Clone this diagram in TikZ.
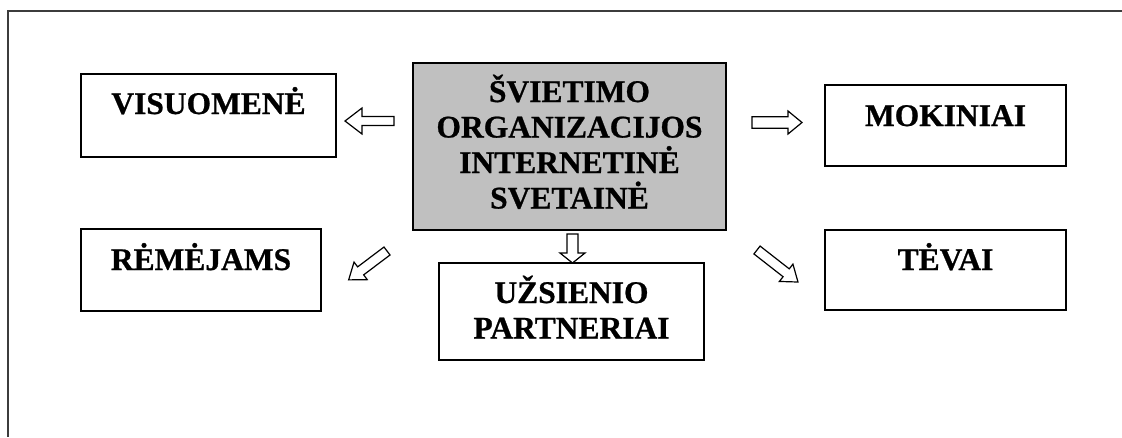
\documentclass[tikz,border=0pt]{standalone}
\usepackage{fontspec}
\setmainfont{Liberation Serif}[BoldFeatures={FakeBold=0.8}]
\begin{document}
\begin{tikzpicture}[x=1pt,y=-1pt,
  box/.style={draw=black, line width=1.4pt, fill=white},
  mainbox/.style={box, fill=silvergray},
  lbl/.style={anchor=base, inner sep=0pt, font=\fontsize{31.5}{35.5}\selectfont\bfseries},
  arr/.style={draw=black, line width=1.2pt, fill=white, line join=miter},
  frame/.style={draw=framegray, line width=2pt}]
\definecolor{silvergray}{HTML}{C0C0C0}
\definecolor{framegray}{HTML}{3C3C3C}
\useasboundingbox (0,0) rectangle (1122,437);
\newcommand\blockarr[7]{%
  \begin{scope}[shift={(#1,#2)}, rotate=#3]
    \draw[arr] (0,-#5) -- ({#4-#7},-#5) -- ({#4-#7},-#6) -- (#4,0) -- ({#4-#7},#6) -- ({#4-#7},#5) -- (0,#5) -- cycle;
  \end{scope}}
% frame
\draw[frame] (1122,11) -- (8,11) -- (8,437);
% boxes
\draw[box] (81,74) rectangle (336,157);
\node[lbl] (vis) at (208.5,114) {VISUOMENĖ};
\draw[mainbox] (413,63) rectangle (726,230);
\node[lbl] (c1) at (569.5,102) {ŠVIETIMO};
\node[lbl] (c2) at (569.5,137.5) {ORGANIZACIJOS};
\node[lbl] (c3) at (569.5,173) {INTERNETINĖ};
\node[lbl] (c4) at (569.5,208.5) {SVETAINĖ};
\draw[box] (825,85) rectangle (1066,166);
\node[lbl] (mok) at (945.5,126) {MOKINIAI};
\draw[box] (81,229) rectangle (321,311);
\node[lbl] (rem) at (201,270) {RĖMĖJAMS};
\draw[box] (439,263) rectangle (704,360);
\node[lbl] (uz1) at (571.5,303) {UŽSIENIO};
\node[lbl] (uz2) at (571.5,338.5) {PARTNERIAI};
\draw[box] (825,230) rectangle (1066,310);
\node[lbl] (tev) at (945.5,270) {TĖVAI};
% block arrows
\blockarr{394}{121}{180}{49}{4.5}{13}{17}
\blockarr{752}{122.5}{0}{50}{5.8}{11.5}{14}
\blockarr{572.5}{234}{-90}{29}{5.5}{12.5}{10}
\blockarr{387}{251}{217}{48}{5}{11}{15}
\blockarr{757}{250}{-38}{52}{5}{11}{15}
\end{tikzpicture}
\end{document}
